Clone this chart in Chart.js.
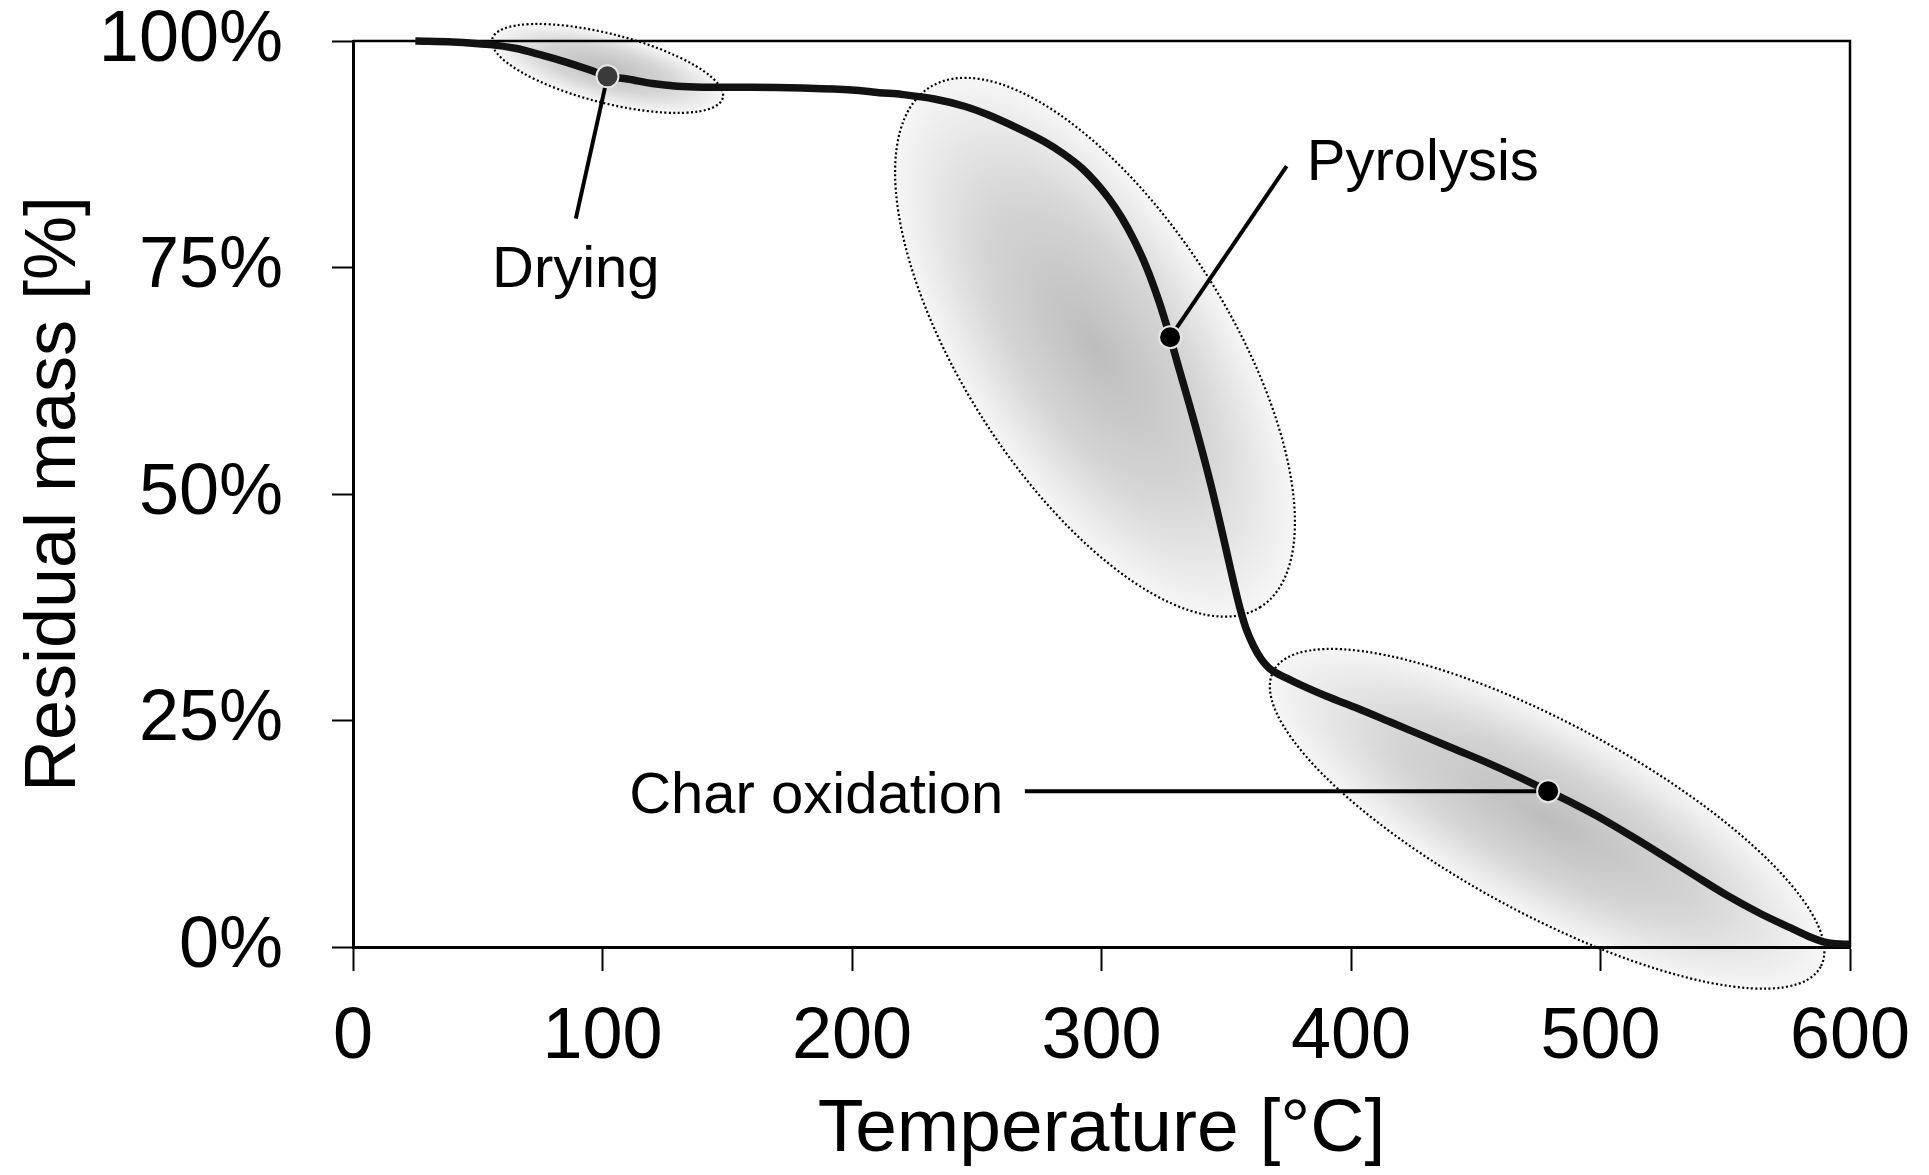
<!DOCTYPE html>
<html>
<head>
<meta charset="utf-8">
<script src="https://cdn.jsdelivr.net/npm/chart.js@4.4.1/dist/chart.umd.min.js"></script>
<style>
html,body{margin:0;padding:0;background:#fff;}
canvas{display:block;}
</style>
</head>
<body>
<canvas id="c" width="1929" height="1175"></canvas>
<script>
// ---- data ----
const temps = [25, 40, 55, 65, 75, 85, 95, 102, 110, 120, 130, 140, 160, 180, 200, 211, 220, 233, 245, 255, 267, 277, 285, 292, 298, 303, 308, 313, 318, 323, 327.5, 331, 335.5, 339.5, 343.5, 347, 350.5, 353, 355.5, 358, 361, 364, 368, 374, 380, 390, 403, 416, 429, 442, 455, 467, 479, 489, 499, 512, 525, 538, 551, 564, 577, 584, 589, 594, 600];
const mass  = [100, 99.9, 99.6, 99.2, 98.5, 97.7, 96.8, 96.1, 95.8, 95.3, 95.0, 94.9, 94.9, 94.8, 94.6, 94.3, 94.1, 93.6, 92.8, 91.8, 90.3, 88.9, 87.5, 86.0, 84.3, 82.6, 80.55, 78.05, 75.05, 71.3, 67.3, 63.9, 59.6, 55.6, 51.4, 47.4, 43.2, 40.2, 37.4, 35.1, 33.2, 31.8, 30.6, 29.7, 28.9, 27.7, 26.3, 24.8, 23.3, 21.8, 20.3, 18.8, 17.2, 15.85, 14.4, 12.3, 10.1, 7.85, 5.65, 3.7, 2.0, 1.1, 0.6, 0.35, 0.3];

const xTickValues = [0, 100, 200, 300, 400, 500, 600];
const yTickValues = [0, 25, 50, 75, 100];
const xTitle = 'Temperature [°C]';
const yTitle = 'Residual mass [%]';

// phase annotations (data units)
const phaseNames  = ['Drying', 'Pyrolysis', 'Char oxidation'];
const dotT        = [102, 327.5, 479];
const dotM        = [96.1, 67.3, 17.2];
const leaderEndT  = [89.3, 374.2, 269.3];
const leaderEndM  = [80.4, 86.2, 17.2];
const labelT      = [89.3, 382.3, 260.6];
const labelM      = [72.85, 84.66, 14.76];
const ellipseT    = [102.0, 297.4, 478.6];
const ellipseM    = [96.97, 66.2, 14.15];

// ---- styles ----
const FONT = '"Liberation Sans", Arial, sans-serif';
const ellipseStyle = [
  {rx: 119, ry: 34.5, angle: 14.3},
  {rx: 308, ry: 133, angle: 57.5},
  {rx: 311, ry: 95, angle: 28.4}
];
const labelAlign = ['center', 'left', 'right'];
const dotColors = ['#3a3a3a', '#000000', '#000000'];

const ellipsePlugin = {
  id: 'ellipses',
  beforeDraw(chart) {
    const ctx = chart.ctx, sx = chart.scales.x, sy = chart.scales.y;
    ellipseT.forEach((t, i) => {
      const cx = sx.getPixelForValue(t), cy = sy.getPixelForValue(ellipseM[i]);
      const s = ellipseStyle[i];
      const ang = s.angle * Math.PI / 180;
      ctx.save();
      ctx.translate(cx, cy);
      ctx.rotate(ang);
      ctx.scale(s.rx, s.ry);
      const g = ctx.createRadialGradient(0, 0, 0, 0, 0, 1);
      g.addColorStop(0, '#bdbdbd');
      g.addColorStop(0.55, '#d5d5d5');
      g.addColorStop(1, '#f6f6f6');
      ctx.beginPath();
      ctx.arc(0, 0, 1, 0, Math.PI * 2);
      ctx.fillStyle = g;
      ctx.fill();
      ctx.restore();
      ctx.save();
      ctx.beginPath();
      ctx.ellipse(cx, cy, s.rx, s.ry, ang, 0, Math.PI * 2);
      ctx.setLineDash([2, 2.4]);
      ctx.lineWidth = 2.2;
      ctx.strokeStyle = '#000';
      ctx.stroke();
      ctx.restore();
    });
  }
};

const boxPlugin = {
  id: 'box',
  beforeDatasetsDraw(chart) {
    const ctx = chart.ctx, a = chart.chartArea;
    ctx.save();
    ctx.strokeStyle = '#000';
    ctx.lineWidth = 2.5;
    ctx.beginPath();
    ctx.moveTo(a.left, a.top);
    ctx.lineTo(a.right, a.top);
    ctx.lineTo(a.right, a.bottom);
    ctx.stroke();
    ctx.restore();
  }
};

const labelPlugin = {
  id: 'phaseLabels',
  afterDatasetsDraw(chart) {
    const ctx = chart.ctx, sx = chart.scales.x, sy = chart.scales.y;
    ctx.save();
    ctx.font = '58px ' + FONT;
    ctx.fillStyle = '#000';
    ctx.textBaseline = 'alphabetic';
    phaseNames.forEach((name, i) => {
      ctx.textAlign = labelAlign[i];
      ctx.fillText(name, sx.getPixelForValue(labelT[i]), sy.getPixelForValue(labelM[i]));
    });
    ctx.restore();
  }
};

const curve = temps.map((t, i) => ({x: t, y: mass[i]}));
const leaders = phaseNames.map((n, i) => ({
  type: 'line',
  data: [{x: dotT[i], y: dotM[i]}, {x: leaderEndT[i], y: leaderEndM[i]}],
  borderColor: '#000', borderWidth: 4, pointRadius: 0, fill: false, order: 2, clip: false
}));
const dots = {
  type: 'line',
  data: dotT.map((t, i) => ({x: t, y: dotM[i]})),
  showLine: false,
  pointRadius: 11,
  pointBackgroundColor: dotColors,
  pointBorderColor: '#e6e6e6',
  pointBorderWidth: 2,
  order: 1,
  clip: false
};

new Chart(document.getElementById('c').getContext('2d'), {
  type: 'line',
  data: {
    datasets: [
      {
        data: curve,
        borderColor: '#121212',
        borderWidth: 7.5,
        pointRadius: 0,
        tension: 0.35,
        fill: false,
        order: 3,
        clip: false
      },
      ...leaders,
      dots
    ]
  },
  options: {
    responsive: false,
    animation: false,
    devicePixelRatio: 1,
    layout: {padding: {top: 41, right: 79, left: 0, bottom: 0}},
    plugins: {legend: {display: false}, tooltip: {enabled: false}},
    scales: {
      x: {
        type: 'linear',
        min: 0, max: 600,
        afterBuildTicks(scale) { scale.ticks = xTickValues.map(v => ({value: v})); },
        afterFit(scale) { scale.height = 228; scale.paddingLeft = 0; scale.paddingRight = 0; },
        grid: {display: true, drawOnChartArea: false, drawTicks: true, tickLength: 24, tickWidth: 2, tickColor: '#000'},
        border: {display: true, color: '#000', width: 3},
        ticks: {color: '#000', font: {family: FONT, size: 72}, padding: 24, maxRotation: 0, autoSkip: false},
        title: {display: true, text: xTitle, color: '#000', font: {family: FONT, size: 75}, padding: {top: 0, bottom: 0}}
      },
      y: {
        type: 'linear',
        min: 0, max: 100,
        afterBuildTicks(scale) { scale.ticks = yTickValues.map(v => ({value: v})); },
        afterFit(scale) { scale.width = 353; scale.paddingTop = 0; scale.paddingBottom = 0; },
        grid: {display: true, drawOnChartArea: false, drawTicks: true, tickLength: 21, tickWidth: 2, tickColor: '#000'},
        border: {display: true, color: '#000', width: 3},
        ticks: {color: '#000', font: {family: FONT, size: 72}, padding: 49, callback: v => v + '%', autoSkip: false},
        title: {display: true, text: yTitle, color: '#000', font: {family: FONT, size: 72}, padding: {top: 12, bottom: 0}}
      }
    }
  },
  plugins: [ellipsePlugin, boxPlugin, labelPlugin]
});
</script>
</body>
</html>
